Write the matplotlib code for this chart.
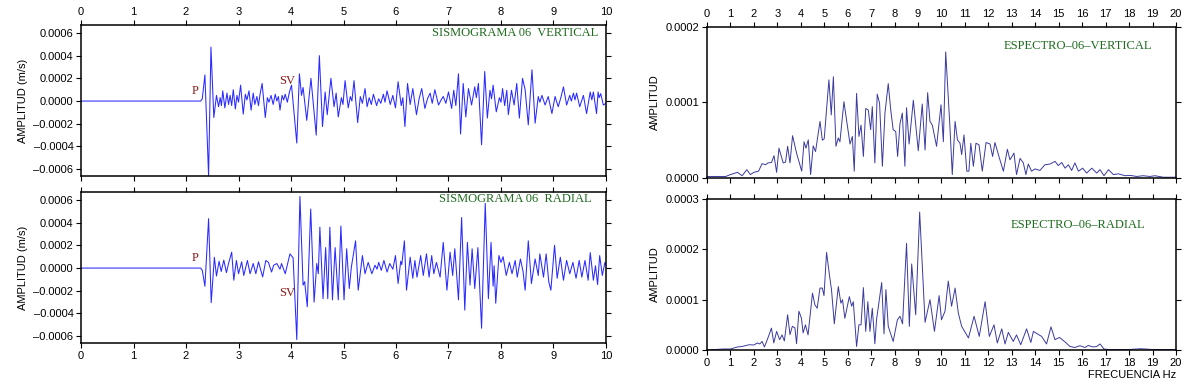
import numpy as np
import matplotlib
matplotlib.use("Agg")
import matplotlib.pyplot as plt

# sismograma vertical: tiempo (s), amplitud (1e-4 m/s)
t_vert = [0, 2.28, 2.31, 2.36, 2.43, 2.475, 2.53, 2.58, 2.62, 2.65, 2.675, 2.70, 2.74, 2.78,
          2.81, 2.84, 2.87, 2.90, 2.94, 2.97, 3.00, 3.04, 3.09, 3.13, 3.16, 3.20, 3.24, 3.28,
          3.31, 3.35, 3.38, 3.41, 3.45, 3.51, 3.55, 3.58, 3.62, 3.66, 3.70, 3.73, 3.76, 3.79,
          3.83, 3.86, 3.89, 3.93, 3.97, 4.01, 4.11, 4.16, 4.20, 4.23, 4.30, 4.38, 4.48, 4.54,
          4.60, 4.65, 4.69, 4.76, 4.82, 4.86, 4.90, 4.96, 4.99, 5.03, 5.09, 5.13, 5.16, 5.20,
          5.27, 5.32, 5.36, 5.41, 5.45, 5.49, 5.53, 5.57, 5.63, 5.67, 5.71, 5.76, 5.79, 5.83,
          5.89, 5.94, 5.99, 6.04, 6.10, 6.13, 6.17, 6.22, 6.27, 6.32, 6.39, 6.44, 6.49, 6.55,
          6.60, 6.65, 6.69, 6.74, 6.81, 6.86, 6.90, 6.95, 7.00, 7.06, 7.10, 7.14, 7.19, 7.23,
          7.28, 7.33, 7.38, 7.44, 7.50, 7.53, 7.57, 7.63, 7.69, 7.74, 7.79, 7.82, 7.85, 7.91,
          7.97, 8.00, 8.03, 8.07, 8.11, 8.14, 8.20, 8.25, 8.30, 8.35, 8.41, 8.46, 8.52, 8.59,
          8.65, 8.71, 8.74, 8.78, 8.84, 8.90, 8.97, 9.03, 9.09, 9.14, 9.19, 9.25, 9.31, 9.34,
          9.38, 9.41, 9.44, 9.50, 9.57, 9.63, 9.70, 9.73, 9.76, 9.82, 9.85, 9.87, 9.90, 9.95, 10.0]
a_vert = [0, 0, 0.2, 2.3, -6.6, 4.75, -1.45, 0.5, -0.5, 0.3, -0.4, 0.9, -0.6, 0.7,
          -0.3, 0.5, -0.4, 1.0, -0.7, 0.5, -0.1, 1.4, -1.15, 0.6, 0.1, 0.9, -0.8, 0.7,
          -0.3, 0.4, -0.4, 0.6, 1.55, -1.45, 0.3, -0.1, 0.5, -0.3, 0.6, 0.0, 0.4, -0.8,
          0.5, 0.1, 0.6, -0.1, 0.8, 1.4, -3.7, 2.4, 0.5, 1.2, -1.7, 2.0, -3.0, 4.0,
          -2.25, 0.8, -1.2, 2.0, -0.5, 0.7, -1.4, 0.3, -0.3, 1.8, -0.6, 0.4, 0.0, 1.8,
          -1.9, 0.4, -0.2, 1.1, -0.5, 0.3, -0.3, 0.6, -0.4, 0.2, -0.2, 0.6, -0.1, 0.9,
          -0.3, 0.5, -0.6, 1.7, -0.4, 0.3, -2.25, 1.55, -0.3, 1.1, -1.2, 0.2, 1.1, -0.65,
          0.2, 0.7, -0.2, 1.0, -0.35, 0.1, 0.4, -0.2, 0.8, -0.65, 0.95, -0.4, 2.4, -2.9,
          1.55, -1.4, 1.1, -0.35, 1.25, 0.3, 1.55, -3.85, 2.6, -1.5, 0.95, 0.2, 1.4, -0.95,
          0.3, -0.1, 1.1, -0.4, 0.95, -1.2, 0.95, -0.35, 1.55, -1.5, 2.0, 1.0, -2.1, 2.75,
          -1.95, 0.4, -0.1, 0.5, -0.35, 0.4, -1.1, 0.4, -0.5, 0.3, 1.25, -0.35, 0.5, 0.0,
          0.7, 0.1, 0.7, -0.5, 0.5, -1.1, 0.8, 0.1, 0.8, -1.1, 0.8, 0.3, 0.65, -0.35, -0.2]

# sismograma radial: tiempo (s), amplitud (1e-4 m/s)
t_rad = [0, 2.28, 2.31, 2.36, 2.43, 2.48, 2.54, 2.58, 2.63, 2.67, 2.72, 2.77, 2.81, 2.87,
         2.91, 2.96, 3.00, 3.06, 3.10, 3.17, 3.22, 3.28, 3.33, 3.38, 3.46, 3.52, 3.57, 3.63,
         3.67, 3.73, 3.79, 3.82, 3.89, 3.98, 4.04, 4.11, 4.17, 4.23, 4.26, 4.31, 4.375, 4.44,
         4.49, 4.52, 4.55, 4.61, 4.66, 4.70, 4.74, 4.79, 4.84, 4.90, 4.95, 5.01, 5.06, 5.11,
         5.15, 5.23, 5.28, 5.36, 5.41, 5.47, 5.54, 5.60, 5.64, 5.67, 5.72, 5.77, 5.83, 5.88,
         5.94, 5.99, 6.04, 6.09, 6.11, 6.16, 6.20, 6.27, 6.32, 6.36, 6.40, 6.47, 6.52, 6.58,
         6.63, 6.68, 6.72, 6.77, 6.84, 6.90, 6.97, 7.03, 7.08, 7.12, 7.19, 7.25, 7.31, 7.36,
         7.41, 7.45, 7.50, 7.56, 7.63, 7.70, 7.76, 7.81, 7.85, 7.87, 7.90, 7.96, 8.00, 8.04,
         8.10, 8.16, 8.21, 8.27, 8.31, 8.37, 8.42, 8.46, 8.52, 8.58, 8.65, 8.71, 8.74, 8.81,
         8.86, 8.91, 8.95, 9.02, 9.07, 9.13, 9.19, 9.25, 9.31, 9.37, 9.43, 9.49, 9.54, 9.60,
         9.66, 9.70, 9.76, 9.80, 9.84, 9.88, 9.93, 9.98, 10.0]
a_rad = [0, 0, -0.2, -1.6, 4.35, -3.05, 0.95, -0.7, 0.6, -0.3, 0.7, -0.4, 0.4, 1.4,
         -1.07, 0.67, -0.5, 0.55, -0.65, 0.67, -0.5, 0.4, -0.5, 0.55, -0.78, 0.67, 0.5, -0.35,
         0.25, 0.4, -0.1, 0.4, -0.5, 1.25, 0.9, -6.3, 6.3, -1.5, -1.2, -3.4, 5.2, -3.0,
         0.4, -0.5, 3.6, -2.7, 1.8, -2.7, 3.6, -2.8, 1.8, -2.8, 3.7, -2.8, 1.7, -1.8,
         0.1, 2.4, -1.95, 1.1, -0.5, 0.5, -0.5, 0.25, -0.1, 0.5, -0.2, 0.67, -0.35, 0.4,
         -0.1, 1.1, -1.36, 0.6, 0.3, 2.4, -1.95, 0.96, -0.9, 0.67, -0.8, 1.1, -0.65, 1.25,
         -0.8, 1.1, -0.5, 0.5, -0.8, 2.26, -1.95, 1.4, -0.65, 1.7, -2.8, 4.45, -3.7, 2.26,
         -1.5, 1.7, -1.8, 1.8, -5.3, 5.7, -2.7, 2.26, -1.6, 0.2, -3.1, 1.1, 0.5, 1.0,
         -0.65, 0.5, -0.5, 0.67, -0.8, 0.8, -0.3, -1.95, 2.4, -1.36, 0.8, -0.65, 1.25, -0.8,
         1.25, -1.2, -1.95, 2.0, -0.9, 0.96, -1.07, 0.67, -0.5, 0.5, -0.9, 0.67, -0.8, 0.67,
         -1.07, 1.36, -1.07, 0.2, -1.45, 1.1, -0.65, 0.5, 0.3]

# espectro vertical: frecuencia (Hz), amplitud (1e-5)
f_vert = [0, 0.5, 0.8, 1.0, 1.3, 1.5, 1.7, 1.85, 2.0, 2.2, 2.35, 2.5, 2.6, 2.75, 2.86, 2.97,
          3.07, 3.25, 3.35, 3.44, 3.54, 3.65, 3.82, 4.04, 4.14, 4.22, 4.32, 4.42, 4.53, 4.63,
          4.82, 4.92, 5.0, 5.2, 5.3, 5.39, 5.5, 5.6, 5.67, 5.84, 6.1, 6.2, 6.28, 6.38, 6.48,
          6.57, 6.67, 6.77, 6.88, 6.98, 7.05, 7.16, 7.26, 7.36, 7.48, 7.59, 7.73, 7.84, 7.94,
          8.05, 8.13, 8.23, 8.33, 8.44, 8.51, 8.62, 8.8, 9.01, 9.18, 9.3, 9.41, 9.51, 9.61,
          9.79, 9.98, 10.08, 10.18, 10.36, 10.46, 10.58, 10.68, 10.79, 10.86, 10.96, 11.08,
          11.17, 11.25, 11.36, 11.47, 11.6, 11.74, 11.9, 12.07, 12.18, 12.28, 12.45, 12.64,
          12.81, 12.92, 13.09, 13.2, 13.35, 13.49, 13.6, 13.7, 13.84, 13.99, 14.2, 14.41,
          14.63, 14.84, 14.98, 15.13, 15.27, 15.41, 15.55, 15.69, 15.84, 16.02, 16.19, 16.41,
          16.62, 16.76, 16.93, 17.12, 17.33, 17.54, 17.83, 18.04, 18.32, 18.6, 18.89, 19.1,
          19.46, 20.0]
s_vert = [0.2, 0.2, 0.2, 0.45, 0.75, 0.3, 1.1, 0.45, 0.75, 0.9, 1.9, 1.75, 2.0, 2.05, 2.95, 0.75,
          3.95, 2.0, 2.1, 4.2, 2.0, 5.6, 3.3, 0.9, 4.8, 3.95, 5.05, 0.45, 4.25, 3.5,
          7.5, 5.0, 5.2, 13.0, 8.35, 13.4, 4.2, 5.3, 4.8, 10.1, 4.5, 5.5, 0.9, 11.2, 5.5,
          7.0, 2.85, 9.2, 9.0, 6.4, 9.45, 2.0, 11.1, 9.9, 1.55, 8.6, 12.5, 8.9, 6.4,
          6.15, 2.85, 7.2, 8.6, 1.55, 9.3, 4.5, 10.3, 3.6, 9.8, 3.7, 11.3, 7.5, 7.0,
          4.2, 9.7, 4.8, 16.7, 6.8, 0.45, 7.5, 5.05, 4.6, 3.1, 5.7, 0.9,
          0.9, 4.6, 1.55, 4.6, 4.4, 0.9, 4.7, 4.5, 2.85, 4.7, 2.85, 0.9,
          3.8, 2.4, 3.3, 0.45, 2.6, 2.0, 0.45, 1.85, 0.9, 1.2, 1.0, 1.75,
          1.85, 2.2, 1.65, 2.05, 1.3, 1.75, 1.0, 2.0, 0.9, 1.3, 0.65, 1.3,
          0.65, 1.1, 0.3, 1.1, 0.45, 0.55, 0.3, 0.35, 0.2, 0.3, 0.2, 0.3,
          0.1, 0.1]

# espectro radial: frecuencia (Hz), amplitud (1e-5)
f_rad = [0, 0.7, 1.0, 1.3, 1.5, 1.8, 2.0, 2.15, 2.25, 2.35, 2.45, 2.6, 2.75, 2.85, 2.97, 3.1,
         3.2, 3.3, 3.44, 3.54, 3.64, 3.75, 3.82, 3.92, 4.03, 4.1, 4.2, 4.31, 4.5, 4.6, 4.7,
         4.82, 4.92, 4.99, 5.1, 5.24, 5.31, 5.43, 5.6, 5.71, 5.78, 5.88, 6.07, 6.17, 6.24,
         6.38, 6.48, 6.57, 6.67, 6.77, 6.86, 6.95, 7.05, 7.16, 7.23, 7.45, 7.55, 7.63, 7.73,
         7.94, 8.12, 8.23, 8.34, 8.51, 8.63, 8.73, 8.9, 9.07, 9.3, 9.51, 9.7, 9.9, 10.0,
         10.15, 10.29, 10.43, 10.58, 10.72, 10.86, 11.15, 11.39, 11.61, 11.86, 12.04, 12.24,
         12.38, 12.57, 12.71, 12.85, 13.06, 13.2, 13.38, 13.63, 13.81, 13.92, 14.09, 14.27,
         14.48, 14.67, 14.84, 15.03, 15.27, 15.48, 15.69, 15.9, 16.12, 16.26, 16.45, 16.62,
         16.76, 16.93, 17.12, 18.0, 18.5, 19.0, 20.0]
s_rad = [0, 0.2, 0.2, 0.6, 0.7, 1.05, 1.0, 1.4, 1.2, 1.7, 0.6, 2.4, 4.35, 1.4, 3.7, 2.05,
         3.0, 1.8, 7.0, 3.05, 4.7, 4.4, 1.25, 7.7, 6.3, 3.4, 5.0, 3.0, 11.3, 9.0, 8.3,
         12.3, 12.3, 10.8, 19.4, 14.3, 12.0, 5.2, 12.6, 9.3, 10.0, 6.3, 10.6, 8.7, 9.6,
         0.7, 5.0, 5.0, 12.4, 3.7, 9.6, 3.7, 8.3, 1.25, 6.0, 13.4, 3.2, 12.0, 4.7,
         1.7, 6.0, 6.7, 5.2, 21.2, 4.7, 17.1, 7.0, 27.4, 5.5, 10.0, 3.7, 10.8, 6.0,
         7.7, 13.7, 8.7, 12.3, 7.3, 4.7, 2.4, 6.7, 2.7, 9.6, 2.7, 5.0,
         1.4, 4.2, 1.2, 3.5, 1.7, 3.0, 1.05, 4.2, 1.5, 3.7, 3.2, 2.7,
         1.2, 4.6, 2.05, 2.5, 1.6, 0.7, 0.5, 0.85, 0.5, 0.9, 0.6, 0.7,
         1.2, 0.2, 0.1, 0.1, 0.25, 0.1, 0.1]

seis_ticks = [-0.0006, -0.0004, -0.0002, 0.0, 0.0002, 0.0004, 0.0006]

SANS = "Liberation Sans"
SERIF = "Liberation Serif"
plt.rcParams["font.family"] = SANS
plt.rcParams["axes.unicode_minus"] = False

fig = plt.figure(figsize=(11.95, 3.85), dpi=100)
ax_v = fig.add_axes([0.0678, 0.5429, 0.4393, 0.3922])
ax_r = fig.add_axes([0.0678, 0.1091, 0.4393, 0.3922])
ax_sv = fig.add_axes([0.5916, 0.5377, 0.3925, 0.3922])
ax_sr = fig.add_axes([0.5916, 0.0909, 0.3925, 0.3922])


def style(ax, top):
    for sp in ax.spines.values():
        sp.set_linewidth(1.1)
    ax.tick_params(direction="out", length=3.5, width=0.8, labelsize=8,
                   top=True, right=True, bottom=True, left=True,
                   labeltop=top, labelbottom=not top, labelright=False, pad=2)


for ax, t, a, title, top, tx, ty in [
        (ax_v, t_vert, a_vert, "SISMOGRAMA 06  VERTICAL", True, 0.985, 0.947),
        (ax_r, t_rad, a_rad, "SISMOGRAMA 06  RADIAL", False, 0.973, 0.954)]:
    ax.plot(t, np.array(a) * 1e-4, color="#2a2aff", lw=0.75)
    ax.set_xlim(0, 10)
    ax.set_ylim(-0.00066, 0.00067)
    ax.set_xticks(range(0, 11))
    ax.set_yticks(seis_ticks)
    ax.set_yticklabels([f"{v:.4f}".replace("-", "\u2013") for v in seis_ticks])
    ax.set_ylabel("AMPLITUD (m/s)", fontsize=8, labelpad=4)
    ax.text(tx, ty, title, transform=ax.transAxes, ha="right", va="center",
            family=SERIF, fontsize=9, color="#1d6b1d")
    style(ax, top)

ax_v.text(2.17, 0.00006, "P", family=SERIF, fontsize=9, color="#8b1a1a", ha="center")
ax_v.text(3.93, 0.00015, "SV", family=SERIF, fontsize=9, color="#8b1a1a", ha="center")
ax_r.text(2.17, 0.00006, "P", family=SERIF, fontsize=9, color="#8b1a1a", ha="center")
ax_r.text(3.93, -0.00025, "SV", family=SERIF, fontsize=9, color="#8b1a1a", ha="center")

for ax, f, s, title, top, ymax, tx, ty in [
        (ax_sv, f_vert, s_vert, "ESPECTRO\u201306\u2013VERTICAL", True, 0.0002, 0.949, 0.874),
        (ax_sr, f_rad, s_rad, "ESPECTRO\u201306\u2013RADIAL", False, 0.0003, 0.934, 0.828)]:
    ax.plot(f, np.array(s) * 1e-5, color="#3a3aa0", lw=0.7)
    ax.set_xlim(0, 20)
    ax.set_ylim(0, ymax)
    ax.set_xticks(range(0, 21))
    ticks = np.arange(0, ymax + 1e-9, 0.0001)
    ax.set_yticks(ticks)
    ax.set_yticklabels([f"{v:.4f}" for v in ticks])
    ax.set_ylabel("AMPLITUD", fontsize=8, labelpad=4)
    ax.text(tx, ty, title, transform=ax.transAxes, ha="right", va="center",
            family=SERIF, fontsize=9, color="#1d6b1d")
    style(ax, top)

ax_sr.set_xlabel("FRECUENCIA Hz", fontsize=8, loc="right", labelpad=2)

fig.savefig("out.png", dpi=100)
